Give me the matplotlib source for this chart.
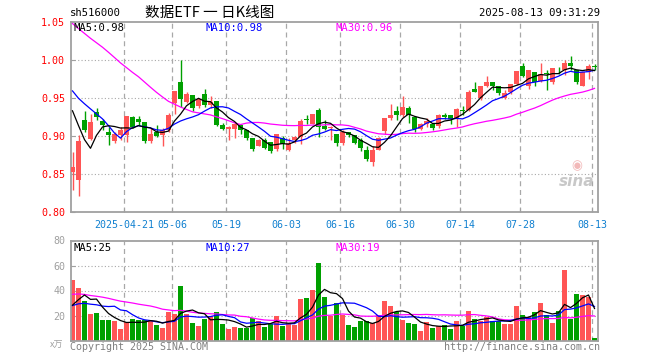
import numpy as np
import pandas as pd
import matplotlib
matplotlib.use("Agg")
import matplotlib.pyplot as plt

plt.rcParams['font.family'] = ['DejaVu Sans Mono', 'Noto Sans CJK SC']

code = "sh516000"
title = "数据ETF 一 日K线图"
stamp = "2025-08-13 09:31:29"

# trading days shown (Apr 8 .. Aug 13, 2025)
holidays = ["2025-05-01", "2025-05-02", "2025-05-05", "2025-06-02"]
days = pd.bdate_range("2025-04-08", "2025-08-13")
days = days[~days.isin(pd.to_datetime(holidays))]

tick_dates = ["2025-04-21", "2025-05-06", "2025-05-19", "2025-06-03", "2025-06-16",
              "2025-06-30", "2025-07-14", "2025-07-28", "2025-08-13"]
tick_labels = ["2025-04-21", "05-06", "05-19", "06-03", "06-16", "06-30", "07-14", "07-28", "08-13"]

# closes / volumes before the window, only used to start the moving averages
prior_close = [1.09, 1.10, 1.11, 1.10, 1.09, 1.10, 1.11, 1.12, 1.11, 1.10, 1.09, 1.10, 1.11, 1.10, 1.09, 1.10,
               1.07, 1.06, 1.05, 1.03, 0.99, 0.98, 0.985, 0.99, 0.98, 0.99, 1.00, 0.975, 0.84]
prior_vol = [35, 42, 48, 40, 38, 45, 50, 42, 36, 40, 44, 39, 37, 46, 52, 41, 38, 35, 42, 40,
             28, 27, 29, 27, 27, 20, 13, 39, 21]

opens = [.853, .842, .921, .896, .931, .919, .905, .893, .901, .901,
         .925, .922, .918, .893, .905, .901, .908, .943, .971, .945,
         .954, .939, .955, .940, .946, .914, .909, .909, .914, .907,
         .897, .887, .894, .892, .883, .897, .881, .895, .899, .922,
         .916, .934, .913, .910, .903, .891, .905, .901, .894, .882,
         .865, .882, .906, .923, .933, .927, .937, .925, .909, .915,
         .916, .913, .927, .927, .922, .934, .934, .961, .950, .966,
         .971, .965, .950, .957, .968, .992, .965, .984, .972, .983,
         .971, .987, .986, .996, .986, .965, .984, .992]
highs = [.879, .901, .933, .929, .936, .922, .912, .905, .911, .926,
         .926, .926, .918, .910, .914, .910, .930, .959, 1.000, .958,
         .954, .950, .961, .952, .946, .917, .913, .918, .916, .908,
         .897, .896, .897, .892, .902, .900, .897, .900, .922, .927,
         .929, .936, .921, .913, .903, .908, .905, .901, .897, .886,
         .886, .899, .924, .942, .939, .952, .939, .925, .917, .924,
         .916, .928, .930, .927, .937, .939, .960, .971, .966, .978,
         .971, .965, .960, .968, .985, .996, .986, .984, .996, .987,
         .989, .990, .999, 1.005, .986, .984, .994, .994]
lows = [.829, .821, .905, .894, .921, .908, .888, .891, .894, .892,
        .910, .914, .891, .891, .899, .886, .905, .929, .938, .943,
        .932, .937, .938, .937, .913, .907, .894, .897, .903, .895,
        .880, .886, .883, .877, .880, .883, .880, .890, .889, .916,
        .915, .898, .908, .894, .886, .888, .898, .889, .880, .867,
        .860, .881, .903, .921, .921, .925, .917, .905, .908, .911,
        .908, .910, .922, .916, .912, .927, .933, .957, .947, .964,
        .960, .954, .948, .955, .967, .977, .962, .965, .971, .960,
        .968, .981, .980, .986, .968, .965, .975, .987]
closes = [.859, .893, .908, .918, .925, .914, .901, .903, .908, .926,
          .912, .918, .893, .903, .900, .908, .927, .959, .948, .955,
          .936, .948, .940, .945, .914, .909, .911, .915, .907, .897,
          .883, .894, .884, .880, .902, .889, .890, .899, .919, .921,
          .929, .911, .909, .912, .890, .905, .901, .891, .884, .870,
          .882, .897, .924, .927, .927, .938, .927, .909, .916, .919,
          .910, .927, .925, .922, .935, .932, .958, .958, .966, .971,
          .966, .956, .956, .968, .985, .979, .986, .971, .981, .981,
          .989, .986, .996, .992, .970, .984, .992, .990]
volume = [48.4, 42.0, 31.6, 21.5, 22.2, 16.4, 16.4, 15.6, 9.2, 14.5,
          17.2, 16.1, 16.4, 15.3, 12.1, 9.7, 22.5, 20.9, 43.6, 20.9,
          14.0, 11.3, 17.2, 19.3, 22.8, 13.2, 9.2, 11.1, 9.7, 10.3,
          17.7, 15.6, 10.8, 13.5, 19.6, 11.6, 13.5, 12.4, 33.2, 34.0,
          40.4, 62.0, 34.8, 20.0, 30.2, 20.7, 12.2, 10.8, 15.6, 15.6,
          13.9, 20.2, 31.6, 27.6, 22.7, 16.2, 14.0, 13.3, 7.6, 14.8,
          10.0, 11.4, 12.4, 9.4, 15.6, 12.0, 23.6, 17.1, 15.5, 18.6,
          15.6, 15.6, 13.2, 13.2, 27.6, 20.4, 18.8, 22.8, 30.0, 20.4,
          14.0, 23.6, 56.4, 17.2, 37.2, 36.4, 34.8, 2.4]

RED = '#FF5555'
GREEN = '#00A000'
GRID = '#A8A8A8'
FRAME = '#A0A0A0'
MA_COLORS = {5: 'black', 10: '#0000FF', 30: '#FF00FF'}

o = np.array(opens); h = np.array(highs); l = np.array(lows); c = np.array(closes)
v = np.array(volume)
x = np.arange(len(c))
up = c >= o
colors = np.where(up, RED, GREEN)


def moving(prior, vals, n):
    s = pd.Series(np.concatenate([prior, vals]))
    return s.rolling(n).mean().values[len(prior):]


ma_p = {n: moving(prior_close, c, n) for n in (5, 10, 30)}
ma_v = {n: moving(prior_vol, v, n) for n in (5, 10, 30)}

W, H = 660, 360


def box(left, top, right, bottom):
    return [left / W, 1 - bottom / H, (right - left) / W, (bottom - top) / H]


def fx(px):
    return px / W


def fy(py):
    return 1 - py / H


fig = plt.figure(figsize=(6.6, 3.6), dpi=100)
ax = fig.add_axes(box(70.7, 21.5, 597.5, 212))
axv = fig.add_axes(box(70.7, 240.5, 597.5, 340.5))

date_idx = [days.get_loc(pd.Timestamp(d)) for d in tick_dates]
tick_x = np.array(date_idx) - 0.37

# price panel
for a in (ax, axv):
    for t in tick_x:
        a.axvline(t, color=GRID, lw=0.9, dashes=(4, 3), zorder=0)
    for s in a.spines.values():
        s.set_color(FRAME)
        s.set_linewidth(1.3)
    a.set_xlim(-0.3, 87.5)

for yv in (0.85, 0.90, 0.95, 1.00):
    ax.axhline(yv, color=GRID, lw=0.8, linestyle=(0, (1, 2)), zorder=0)

ax.vlines(x, l, h, colors=colors, lw=1.0, zorder=2)
body = np.maximum(np.abs(c - o), 0.0008)
ax.bar(x, body, bottom=np.minimum(o, c), width=0.83, color=colors, linewidth=0, zorder=3)
for n in (30, 10, 5):
    ax.plot(x, ma_p[n], color=MA_COLORS[n], lw=0.9, zorder=4)

ax.set_ylim(0.80, 1.05)
ax.set_yticks([0.80, 0.85, 0.90, 0.95, 1.00, 1.05])
ax.set_yticklabels([f"{t:.2f}" for t in ax.get_yticks()], color='#FF0000', fontsize=7.2)
ax.set_xticks(tick_x)
ax.set_xticklabels(tick_labels, color='#1080D0', fontsize=7.2)
ax.tick_params(axis='x', direction='in', length=3, color=FRAME, pad=6)
ax.tick_params(axis='y', direction='in', length=3, color=FRAME, pad=4)

# volume panel
for yv in (20, 40, 60):
    axv.axhline(yv, color=GRID, lw=0.8, linestyle=(0, (1, 2)), zorder=0)
axv.bar(x, v, width=0.83, color=colors, linewidth=0, zorder=2)
for n in (30, 10, 5):
    axv.plot(x, ma_v[n], color=MA_COLORS[n], lw=0.9, zorder=4)
axv.set_ylim(0, 80)
axv.set_yticks([20, 40, 60, 80])
axv.set_yticklabels(["20", "40", "60", "80"], color='#A0A0A0', fontsize=7.2)
axv.set_xticks([])
axv.tick_params(axis='y', direction='in', length=3, color=FRAME, pad=4)


def trunc(val, d):
    f = 10 ** d
    return np.floor(val * f + 1e-9) / f


# header
fig.text(fx(70), fy(13), code, fontsize=7.6, va='center', ha='left')
fig.text(fx(210), fy(13), title, fontsize=10.5, va='center', ha='center',
         family=['Noto Sans CJK SC', 'DejaVu Sans'])
fig.text(fx(600), fy(13), stamp, fontsize=7.6, va='center', ha='right')

# MA legends
for n, px in ((5, 74), (10, 206), (30, 336)):
    fig.text(fx(px), fy(28), f"MA{n}:{trunc(ma_p[n][-1], 2):.2f}", color=MA_COLORS[n],
             fontsize=7.6, va='center', ha='left')
    fig.text(fx(px), fy(248), f"MA{n}:{int(trunc(ma_v[n][-1], 0))}", color=MA_COLORS[n],
             fontsize=7.6, va='center', ha='left')

fig.text(fx(57), fy(345), "x万", color='#A0A0A0', fontsize=6.5, va='center', ha='center',
         family=['Noto Sans CJK SC', 'DejaVu Sans'])
fig.text(fx(70), fy(347), "Copyright 2025 SINA.COM", color='#808080', fontsize=7.2, va='center', ha='left')
fig.text(fx(600), fy(347), "http://finance.sina.com.cn", color='#808080', fontsize=7.2,
         va='center', ha='right')

# sina watermark
fig.text(fx(577), fy(182), "sina", color='#C8C8C8', fontsize=11, fontweight='bold', style='italic',
         va='center', ha='center', family='DejaVu Sans')
fig.text(fx(577), fy(166), "◉", color='#F2B8B8', fontsize=9, va='center', ha='center', family='DejaVu Sans')

fig.savefig("out.png", dpi=100)
